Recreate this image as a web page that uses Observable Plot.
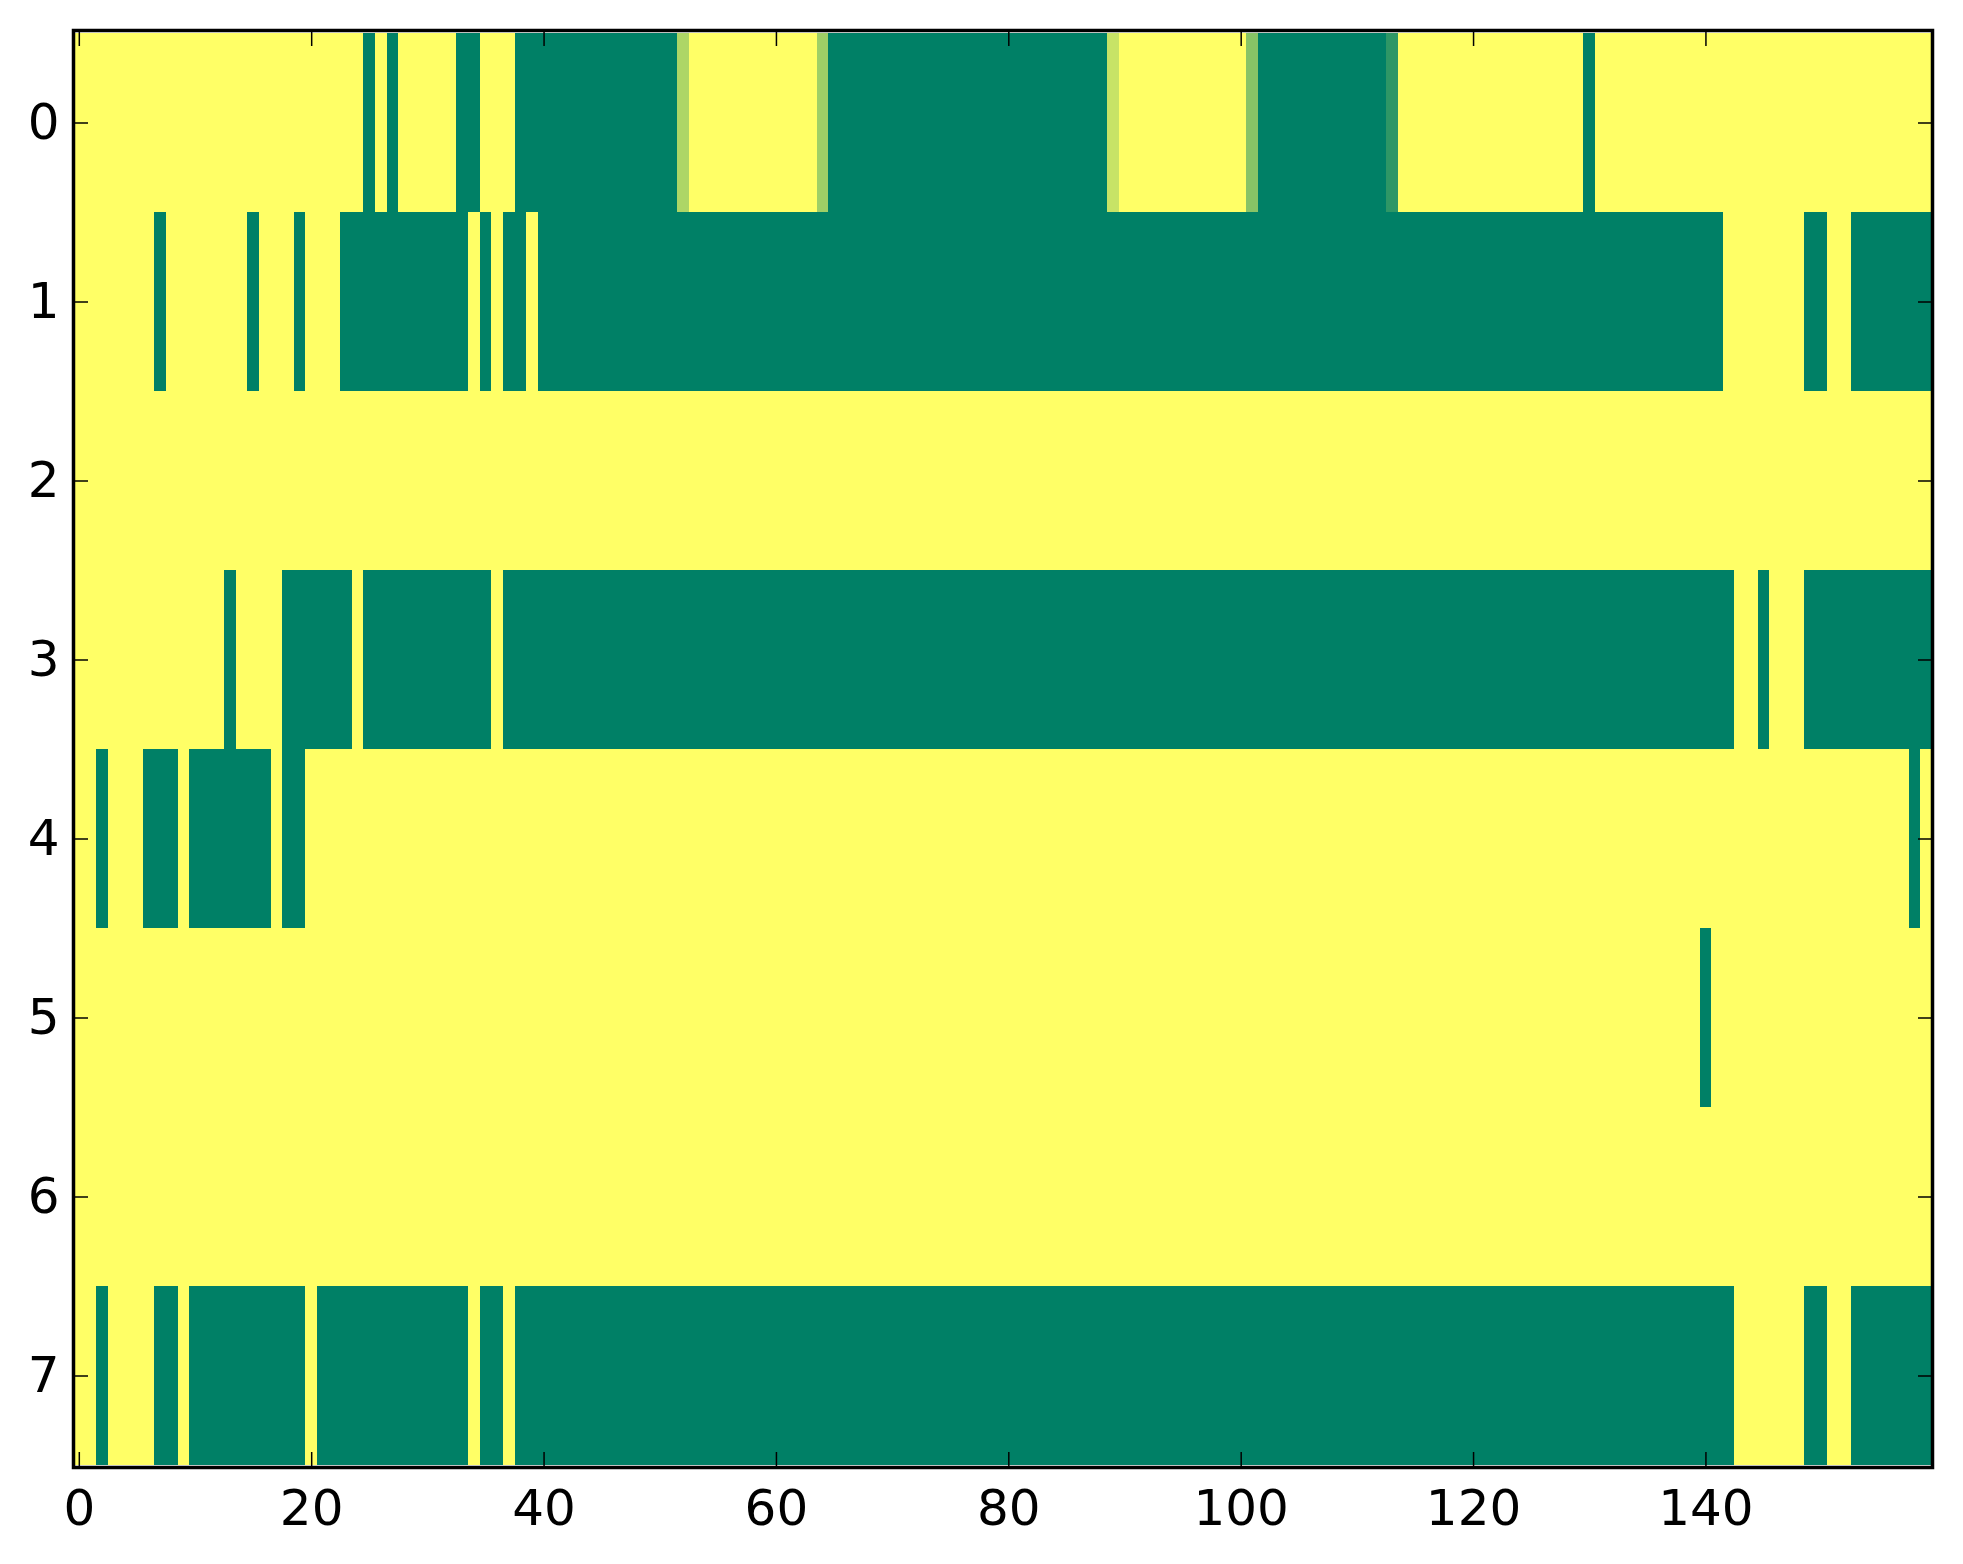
<!DOCTYPE html>
<html>
<head>
<meta charset="utf-8">
<script src="https://cdn.jsdelivr.net/npm/d3@7"></script>
<script src="https://cdn.jsdelivr.net/npm/@observablehq/plot@0.6"></script>
<style>
  html, body { margin: 0; padding: 0; background: #ffffff; overflow: hidden; }
  #chart svg { display: block; }
</style>
</head>
<body>
<div id="chart"></div>
<script>
// Row values (0 = dark green, 1 = yellow in the "summer" colormap), 160 columns each
const row0 = [
  1,1,1,1,1,1,1,1,1,1,1,1,1,1,1,1,1,1,1,1,
  1,1,1,1,1,0,1,0,1,1,1,1,1,0,0,1,1,1,0,0,
  0,0,0,0,0,0,0,0,0,0,0,0,0.68,1,1,1,1,1,1,1,
  1,1,1,1,0.62,0,0,0,0,0,0,0,0,0,0,0,0,0,0,0,
  0,0,0,0,0,0,0,0,0,0.78,1,1,1,1,1,1,1,1,1,1,
  1,0.53,0,0,0,0,0,0,0,0,0,0,0,0.18,1,1,1,1,1,1,
  1,1,1,1,1,1,1,1,1,1,0,1,1,1,1,1,1,1,1,1,
  1,1,1,1,1,1,1,1,1,1,1,1,1,1,1,1,1,1,1,1
];
const row1 = [
  1,1,1,1,1,1,1,0,1,1,1,1,1,1,1,0,1,1,1,0,
  1,1,1,0,0,0,0,0,0,0,0,0,0,0,1,0,1,0,0,1,
  0,0,0,0,0,0,0,0,0,0,0,0,0,0,0,0,0,0,0,0,
  0,0,0,0,0,0,0,0,0,0,0,0,0,0,0,0,0,0,0,0,
  0,0,0,0,0,0,0,0,0,0,0,0,0,0,0,0,0,0,0,0,
  0,0,0,0,0,0,0,0,0,0,0,0,0,0,0,0,0,0,0,0,
  0,0,0,0,0,0,0,0,0,0,0,0,0,0,0,0,0,0,0,0,
  0,0,1,1,1,1,1,1,1,0,0,1,1,0,0,0,0,0,0,0
];
const row2 = [
  1,1,1,1,1,1,1,1,1,1,1,1,1,1,1,1,1,1,1,1,
  1,1,1,1,1,1,1,1,1,1,1,1,1,1,1,1,1,1,1,1,
  1,1,1,1,1,1,1,1,1,1,1,1,1,1,1,1,1,1,1,1,
  1,1,1,1,1,1,1,1,1,1,1,1,1,1,1,1,1,1,1,1,
  1,1,1,1,1,1,1,1,1,1,1,1,1,1,1,1,1,1,1,1,
  1,1,1,1,1,1,1,1,1,1,1,1,1,1,1,1,1,1,1,1,
  1,1,1,1,1,1,1,1,1,1,1,1,1,1,1,1,1,1,1,1,
  1,1,1,1,1,1,1,1,1,1,1,1,1,1,1,1,1,1,1,1
];
const row3 = [
  1,1,1,1,1,1,1,1,1,1,1,1,1,0,1,1,1,1,0,0,
  0,0,0,0,1,0,0,0,0,0,0,0,0,0,0,0,1,0,0,0,
  0,0,0,0,0,0,0,0,0,0,0,0,0,0,0,0,0,0,0,0,
  0,0,0,0,0,0,0,0,0,0,0,0,0,0,0,0,0,0,0,0,
  0,0,0,0,0,0,0,0,0,0,0,0,0,0,0,0,0,0,0,0,
  0,0,0,0,0,0,0,0,0,0,0,0,0,0,0,0,0,0,0,0,
  0,0,0,0,0,0,0,0,0,0,0,0,0,0,0,0,0,0,0,0,
  0,0,0,1,1,0,1,1,1,0,0,0,0,0,0,0,0,0,0,0
];
const row4 = [
  1,1,0,1,1,1,0,0,0,1,0,0,0,0,0,0,0,1,0,0,
  1,1,1,1,1,1,1,1,1,1,1,1,1,1,1,1,1,1,1,1,
  1,1,1,1,1,1,1,1,1,1,1,1,1,1,1,1,1,1,1,1,
  1,1,1,1,1,1,1,1,1,1,1,1,1,1,1,1,1,1,1,1,
  1,1,1,1,1,1,1,1,1,1,1,1,1,1,1,1,1,1,1,1,
  1,1,1,1,1,1,1,1,1,1,1,1,1,1,1,1,1,1,1,1,
  1,1,1,1,1,1,1,1,1,1,1,1,1,1,1,1,1,1,1,1,
  1,1,1,1,1,1,1,1,1,1,1,1,1,1,1,1,1,1,0,1
];
const row5 = [
  1,1,1,1,1,1,1,1,1,1,1,1,1,1,1,1,1,1,1,1,
  1,1,1,1,1,1,1,1,1,1,1,1,1,1,1,1,1,1,1,1,
  1,1,1,1,1,1,1,1,1,1,1,1,1,1,1,1,1,1,1,1,
  1,1,1,1,1,1,1,1,1,1,1,1,1,1,1,1,1,1,1,1,
  1,1,1,1,1,1,1,1,1,1,1,1,1,1,1,1,1,1,1,1,
  1,1,1,1,1,1,1,1,1,1,1,1,1,1,1,1,1,1,1,1,
  1,1,1,1,1,1,1,1,1,1,1,1,1,1,1,1,1,1,1,1,
  0,1,1,1,1,1,1,1,1,1,1,1,1,1,1,1,1,1,1,1
];
const row6 = [
  1,1,1,1,1,1,1,1,1,1,1,1,1,1,1,1,1,1,1,1,
  1,1,1,1,1,1,1,1,1,1,1,1,1,1,1,1,1,1,1,1,
  1,1,1,1,1,1,1,1,1,1,1,1,1,1,1,1,1,1,1,1,
  1,1,1,1,1,1,1,1,1,1,1,1,1,1,1,1,1,1,1,1,
  1,1,1,1,1,1,1,1,1,1,1,1,1,1,1,1,1,1,1,1,
  1,1,1,1,1,1,1,1,1,1,1,1,1,1,1,1,1,1,1,1,
  1,1,1,1,1,1,1,1,1,1,1,1,1,1,1,1,1,1,1,1,
  1,1,1,1,1,1,1,1,1,1,1,1,1,1,1,1,1,1,1,1
];
const row7 = [
  1,1,0,1,1,1,1,0,0,1,0,0,0,0,0,0,0,0,0,0,
  1,0,0,0,0,0,0,0,0,0,0,0,0,0,1,0,0,1,0,0,
  0,0,0,0,0,0,0,0,0,0,0,0,0,0,0,0,0,0,0,0,
  0,0,0,0,0,0,0,0,0,0,0,0,0,0,0,0,0,0,0,0,
  0,0,0,0,0,0,0,0,0,0,0,0,0,0,0,0,0,0,0,0,
  0,0,0,0,0,0,0,0,0,0,0,0,0,0,0,0,0,0,0,0,
  0,0,0,0,0,0,0,0,0,0,0,0,0,0,0,0,0,0,0,0,
  0,0,0,1,1,1,1,1,1,0,0,1,1,0,0,0,0,0,0,0
];
const rows = [row0, row1, row2, row3, row4, row5, row6, row7];
const xTicks = [0, 20, 40, 60, 80, 100, 120, 140];
const yTicks = [0, 1, 2, 3, 4, 5, 6, 7];

const cells = [];
rows.forEach((r, ri) => r.forEach((v, ci) => cells.push({row: ri, col: ci, v})));

const nCols = row0.length;
const W = 1963, H = 1564;

const chart = Plot.plot({
  width: W,
  height: H,
  marginLeft: 73,
  marginRight: 31,
  marginTop: 30,
  marginBottom: 97,
  style: {fontFamily: "DejaVu Sans", fontSize: "50px", color: "#000", background: "#fff"},
  x: {type: "band", domain: d3.range(nCols), padding: 0},
  y: {type: "band", domain: yTicks, padding: 0},
  color: {type: "linear", domain: [0, 1], range: ["#008066", "#ffff66"], interpolate: "rgb"},
  marks: [
    Plot.cell(cells, {x: "col", y: "row", fill: "v", shapeRendering: "crispEdges"}),
    Plot.axisX({anchor: "bottom", ticks: xTicks, tickSize: -15, tickPadding: 37, strokeWidth: 1.5, label: null, fontSize: 50}),
    Plot.axisX({anchor: "top", ticks: xTicks, tickSize: -15, tickFormat: () => "", strokeWidth: 1.5, label: null}),
    Plot.axisY({anchor: "left", ticks: yTicks, tickSize: -15, tickPadding: 29, strokeWidth: 1.5, label: null, fontSize: 50}),
    Plot.axisY({anchor: "right", ticks: yTicks, tickSize: -15, tickFormat: () => "", strokeWidth: 1.5, label: null}),
    Plot.frame({stroke: "#000", strokeWidth: 3.5})
  ]
});
document.getElementById("chart").appendChild(chart);
</script>
</body>
</html>
